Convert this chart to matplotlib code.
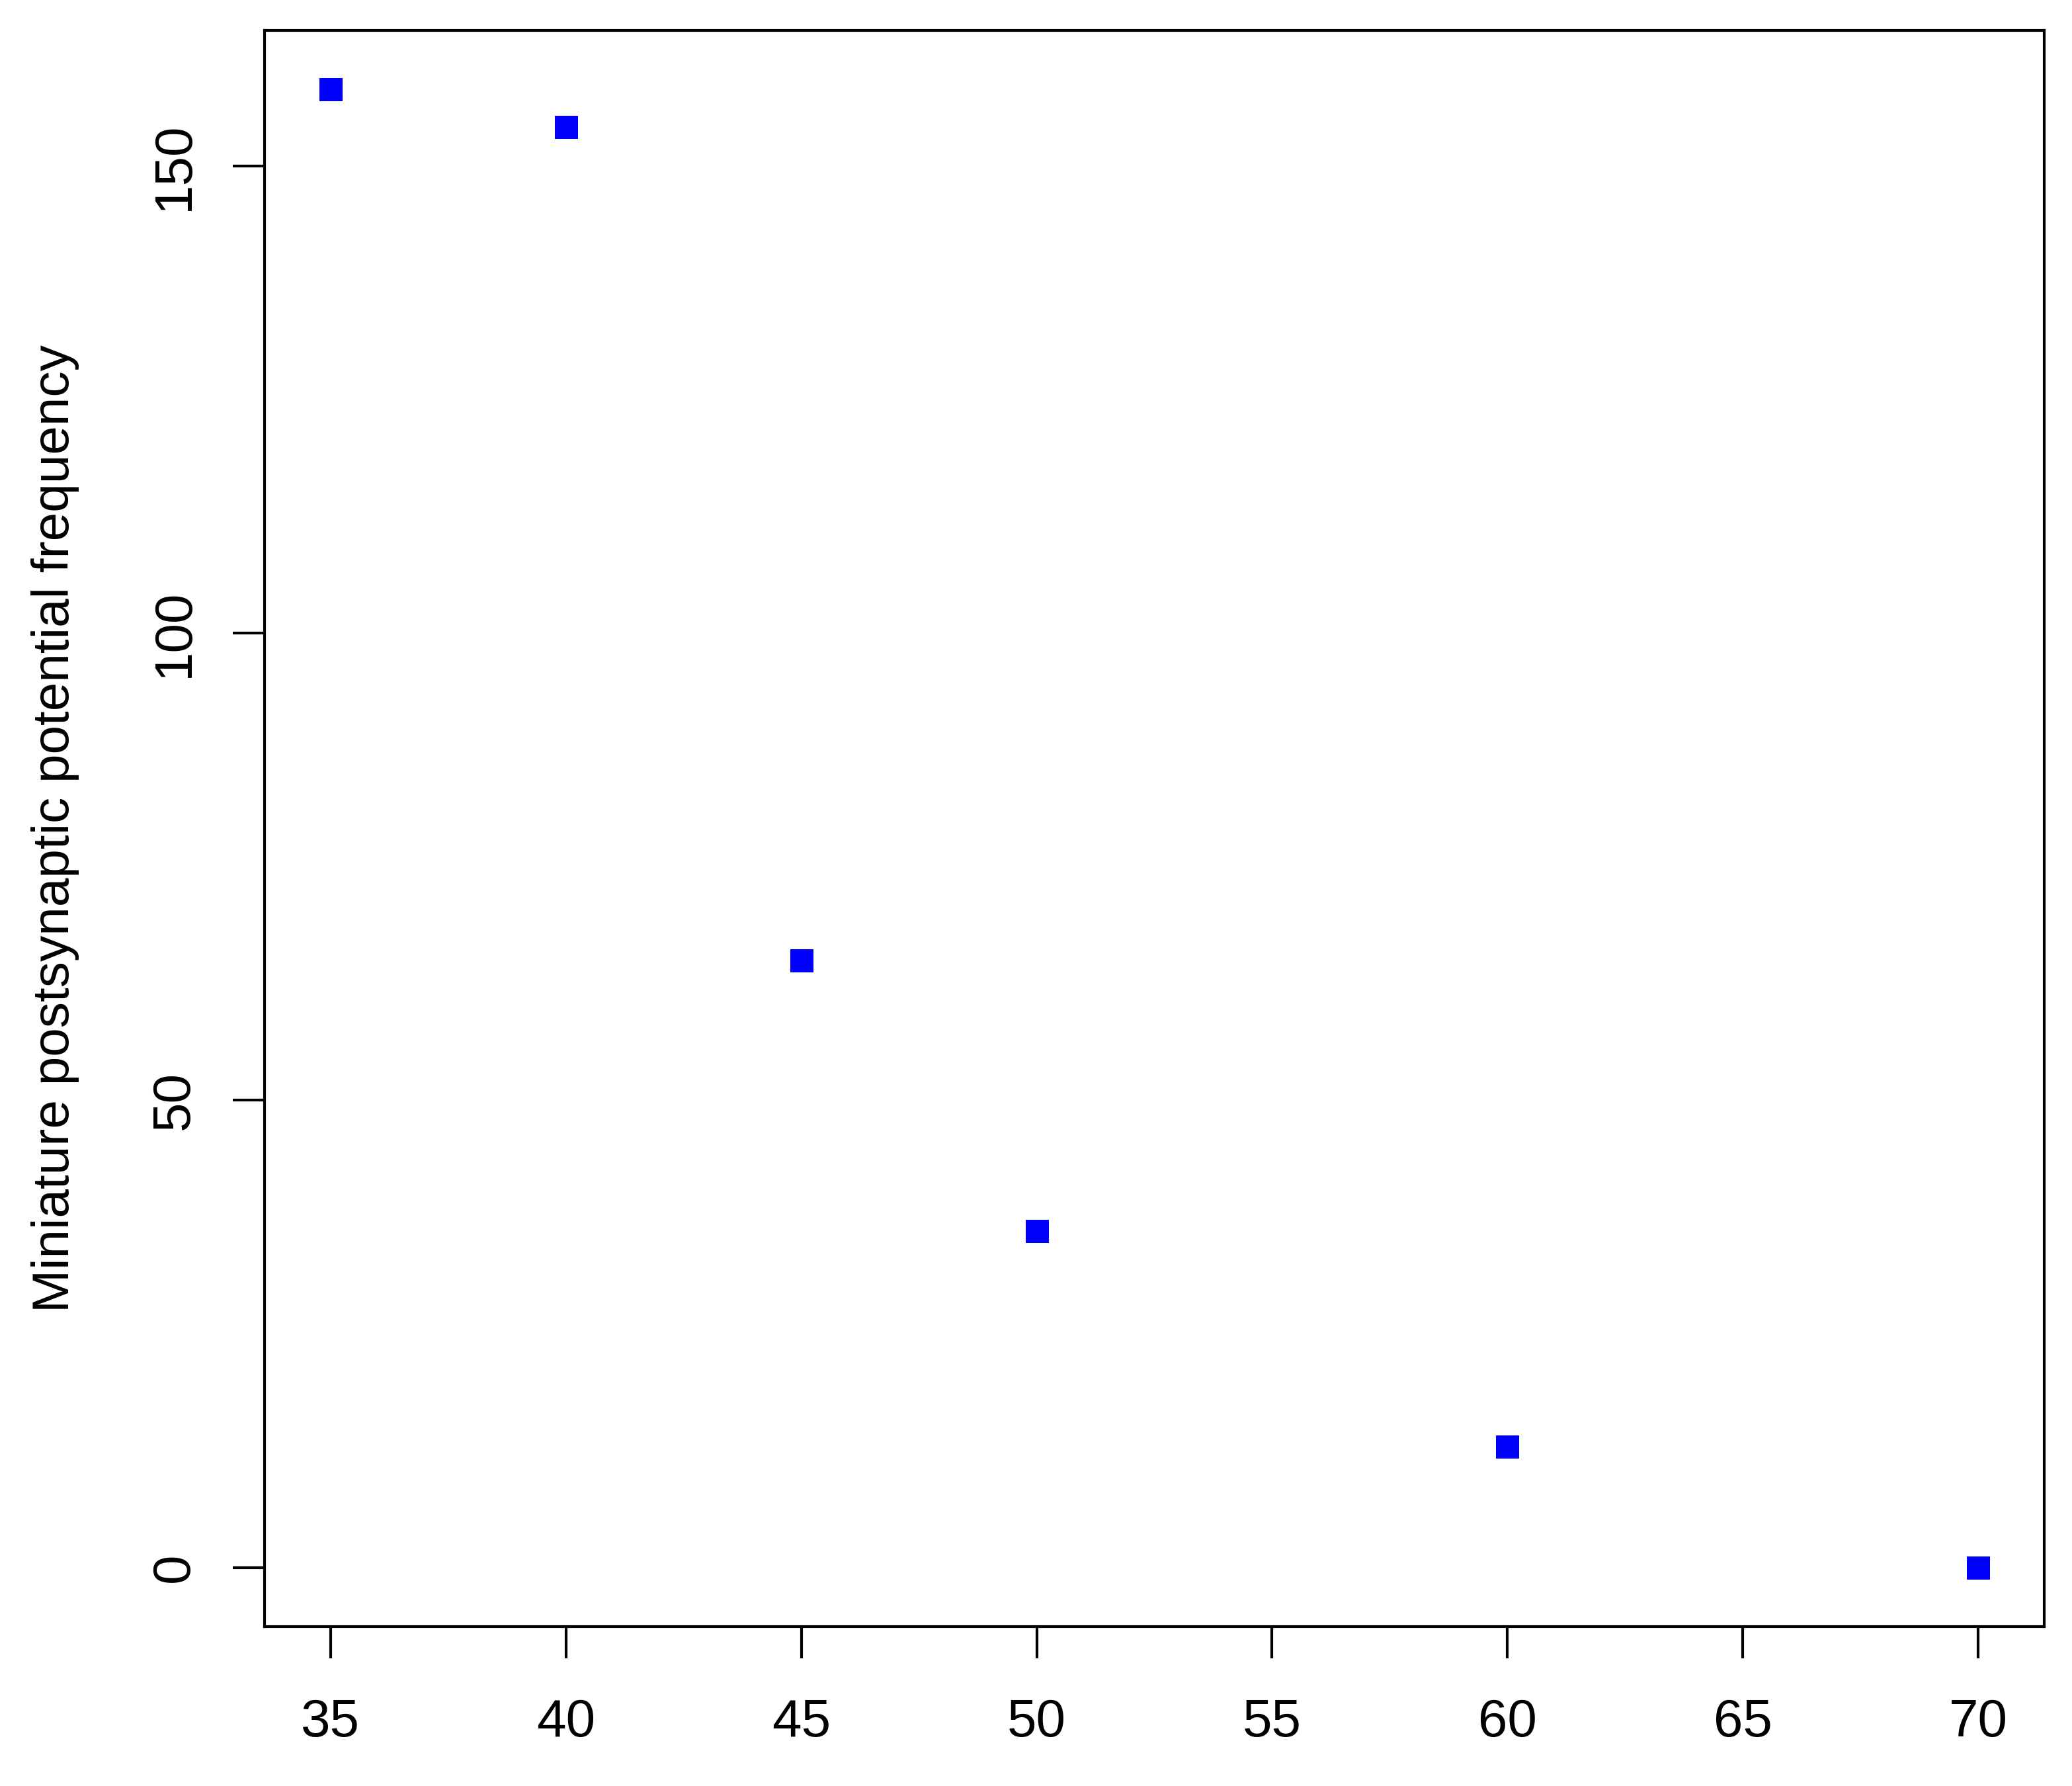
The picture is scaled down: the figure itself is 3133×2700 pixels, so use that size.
import numpy as np
import matplotlib.pyplot as plt

plt.rcParams['font.family'] = ['Liberation Sans', 'DejaVu Sans']

# values
temperature = [35, 40, 45, 50, 60, 70]
frequency = [158.2, 154.2, 65.0, 36.0, 12.9, 0.0]
xticks = [35, 40, 45, 50, 55, 60, 65, 70]
yticks = [0, 50, 100, 150]

fig = plt.figure(figsize=(3133 / 300, 2700 / 300), dpi=300)
ax = fig.add_axes([400 / 3133, 1 - 2459 / 2700, (3091 - 400) / 3133, (2459 - 46) / 2700])

ax.plot(temperature, frequency, linestyle='none', marker='s', markersize=8.4,
        color='#0000ff', markeredgewidth=0)

# R style 4% padding
xr = max(temperature) - min(temperature)
yr = max(frequency) - min(frequency)
ax.set_xlim(min(temperature) - 0.04 * xr, max(temperature) + 0.04 * xr)
ax.set_ylim(min(frequency) - 0.04 * yr, max(frequency) + 0.04 * yr)

ax.set_xticks(xticks)
ax.set_yticks(yticks)
for s in ax.spines.values():
    s.set_linewidth(1.0)
ax.tick_params(axis='both', direction='out', length=11.5, width=1.0, labelsize=19.2)
ax.tick_params(axis='x', pad=14.5)
ax.tick_params(axis='y', pad=12, labelrotation=90)
for lab in ax.get_yticklabels():
    lab.set_va('center')

ax.set_ylabel('Miniature postsynaptic potential frequency', fontsize=18.8)
ax.yaxis.set_label_coords(-0.104, 0.5)

fig.savefig('out.png', dpi=300)
